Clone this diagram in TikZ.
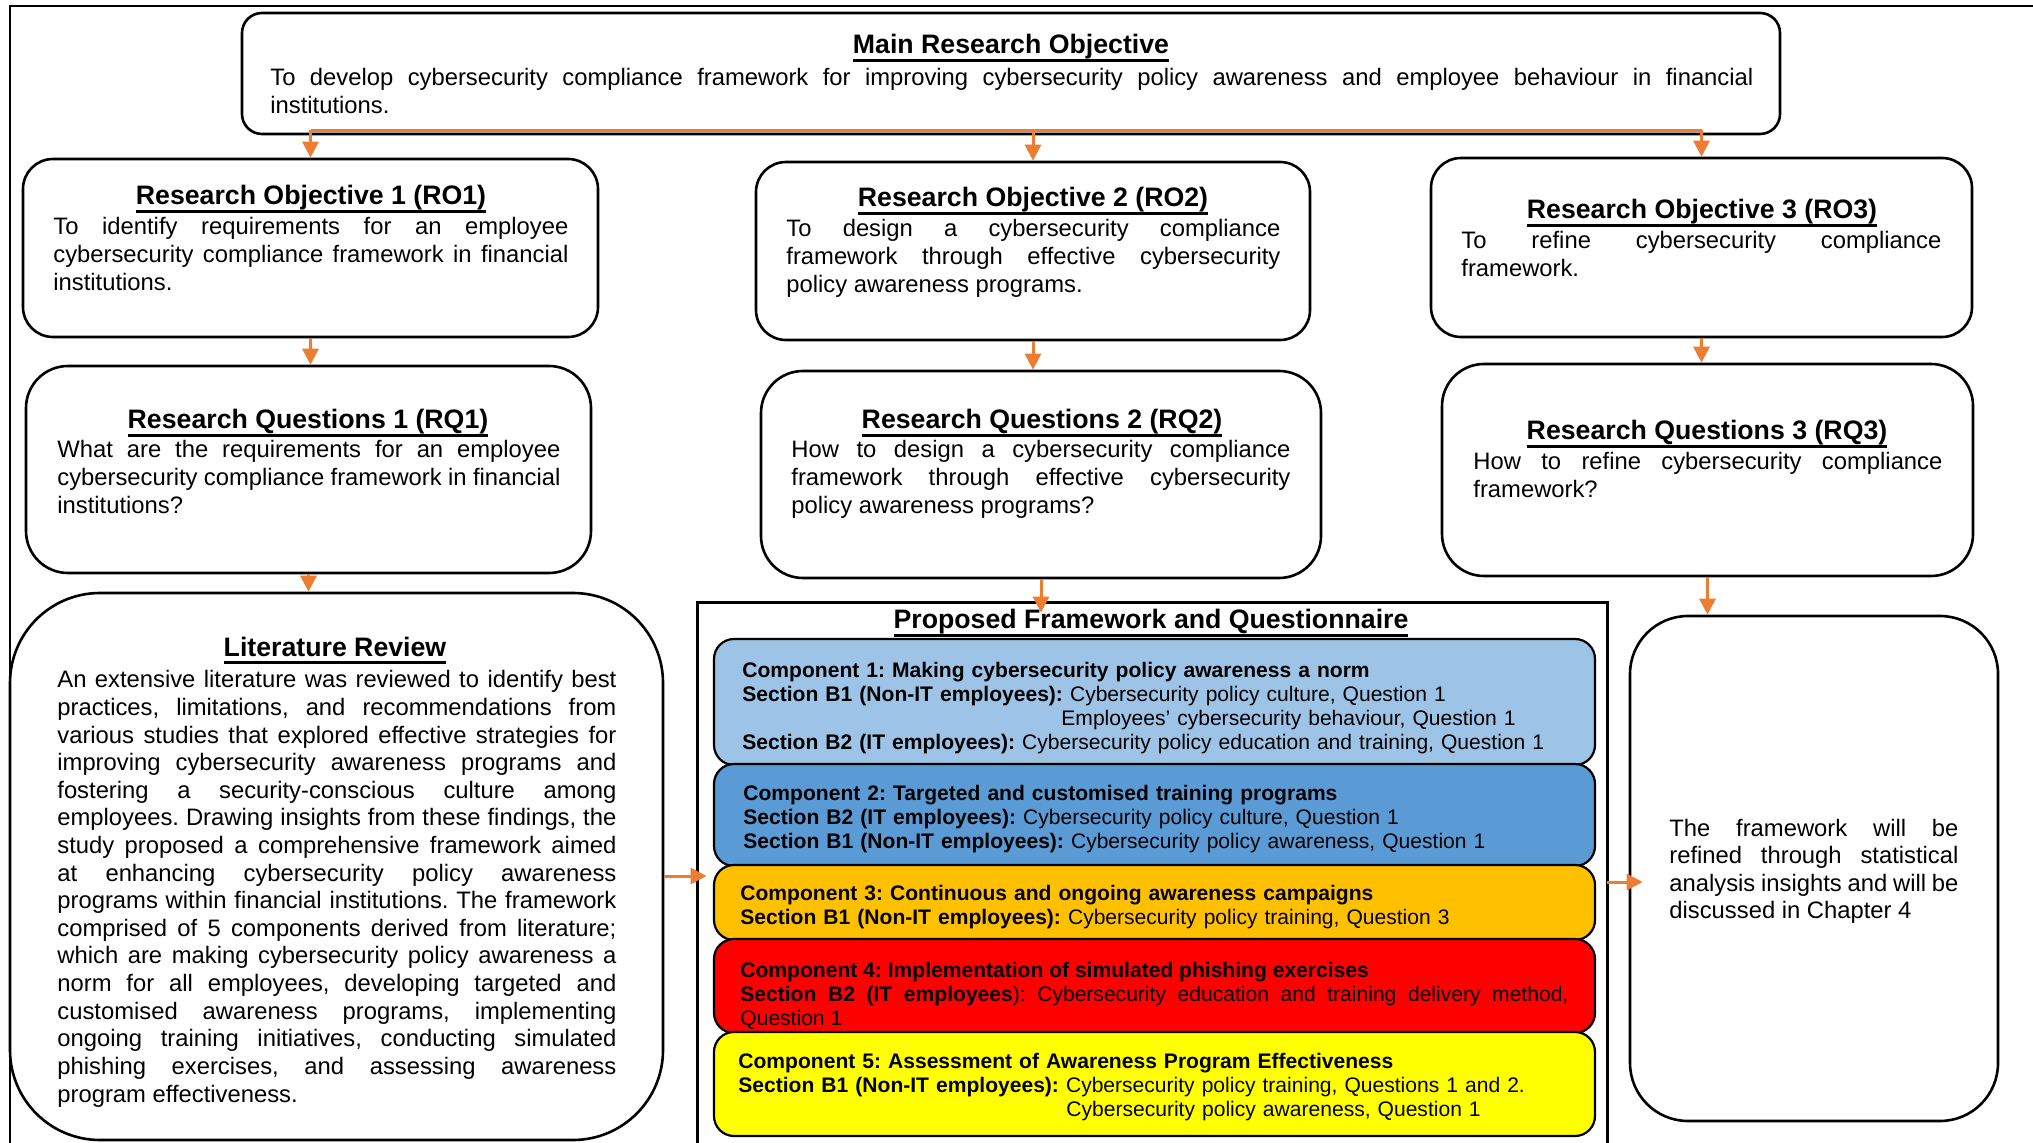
\documentclass[tikz,border=0pt]{standalone}
\usepackage{fontspec}
\setmainfont{Liberation Sans}
\usetikzlibrary{arrows.meta,fit}

\definecolor{flowc}{HTML}{ED7D31}
\definecolor{compA}{HTML}{9DC3E6}
\definecolor{compB}{HTML}{5B9BD5}
\definecolor{compC}{HTML}{FFC000}
\definecolor{compD}{HTML}{FF0000}
\definecolor{compE}{HTML}{FFFF00}

\newcommand\bodyfont{\fontsize{11.9pt}{13.8pt}\selectfont}
\newcommand\titlefont{\fontsize{13.35pt}{15pt}\selectfont\bfseries}
\newcommand\compfont{\fontsize{10.53pt}{12.15pt}\selectfont}
% heading with a heavy underline
\newcommand\ulhead[1]{\setbox0\hbox{#1}\rlap{\rule[-3.8pt]{\wd0}{1.35pt}}\box0}

\frenchspacing
\hyphenpenalty=10000
\exhyphenpenalty=10000
\tolerance=10000

\tikzset{
  box/.style={draw=black, line width=1.3pt, fill=white, inner sep=0pt},
  comp/.style={draw=black, line width=1.1pt, inner sep=0pt, rounded corners=10pt},
  ttl/.style={font=\titlefont, inner sep=0pt, anchor=base},
  body/.style={font=\bodyfont, inner sep=0pt, anchor=base west, align=justify},
  ctext/.style={font=\compfont, inner sep=0pt, anchor=base west, align=left, text width=430pt},
  frameline/.style={draw=black, line width=1.2pt},
  flow/.style={draw=flowc, line width=1.5pt},
  arr/.style={flow, -{Triangle[length=8pt,width=8pt]}},
}

\begin{document}
\begin{tikzpicture}[x=0.5pt, y=-0.5pt]
\useasboundingbox (0,0) rectangle (2033,1143);

% page frame
\draw[frameline] (10,1143) -- (10,6) -- (2033,6);

% boxes
\node (main) [box, rounded corners=10pt, fit={(242,13) (1780,134)}] {};
\node (ro1) [box, rounded corners=15pt, fit={(23,159) (598,337)}] {};
\node (ro2) [box, rounded corners=15pt, fit={(756,162) (1310,340)}] {};
\node (ro3) [box, rounded corners=15pt, fit={(1431,158) (1972,337)}] {};
\node (rq1) [box, rounded corners=21pt, fit={(26,366) (591,573)}] {};
\node (rq2) [box, rounded corners=21pt, fit={(761,371) (1321,578)}] {};
\node (rq3) [box, rounded corners=21pt, fit={(1442,364) (1973,576)}] {};
\node (lit) [box, rounded corners=45pt, fit={(10,593) (663,1140)}] {};
\node (chk) [box, rounded corners=29pt, fit={(1630,616) (1998,1121)}] {};

% framework panel, open at the bottom
\node (fw) [inner sep=0pt, fit={(698,603) (1607,1143)}] {};
\draw[frameline] (fw.south west) -- (fw.north west) -- (fw.north east) -- (fw.south east);

% framework components
\node (c1) [comp, fill=compA, fit={(714,639) (1595,765)}] {};
\node (c2) [comp, fill=compB, fit={(714,764) (1595,866)}] {};
\node (c3) [comp, fill=compC, fit={(714,865) (1595,940)}] {};
\node (c4) [comp, fill=compD, fit={(714,939) (1595,1033)}] {};
\node (c5) [comp, fill=compE, fit={(714,1032) (1595,1136)}] {};

% titles
\node (maint) [ttl] at (1011,54) {\ulhead{Main Research Objective}};
\node (ro1t) [ttl] at (311,205) {\ulhead{Research Objective 1 (RO1)}};
\node (ro2t) [ttl] at (1033,207) {\ulhead{Research Objective 2 (RO2)}};
\node (ro3t) [ttl] at (1702,219) {\ulhead{Research Objective 3 (RO3)}};
\node (rq1t) [ttl] at (308,429) {\ulhead{Research Questions 1 (RQ1)}};
\node (rq2t) [ttl] at (1042,429) {\ulhead{Research Questions 2 (RQ2)}};
\node (rq3t) [ttl] at (1707,440) {\ulhead{Research Questions 3 (RQ3)}};
\node (litt) [ttl] at (335,656) {\ulhead{Literature Review}};
\node (fwt) [ttl] at (1151,629) {\ulhead{Proposed Framework and Questionnaire}};

% body texts
\node (mainb) [body, text width=741.5pt] at (270,86) {To develop cybersecurity compliance framework for improving cybersecurity policy awareness and employee behaviour in financial\linebreak institutions.};
\node (ro1b) [body, text width=257.5pt] at (53,235) {To identify requirements for an employee\linebreak cybersecurity compliance framework in financial\linebreak institutions.};
\node (ro2b) [body, text width=247pt] at (786,237) {To design a cybersecurity compliance\linebreak framework through effective cybersecurity\linebreak policy awareness programs.};
\node (ro3b) [body, text width=240pt] at (1461,249) {To refine cybersecurity compliance\linebreak framework.};
\node (rq1b) [body, text width=251.5pt] at (57,458) {What are the requirements for an employee\linebreak cybersecurity compliance framework in financial\linebreak institutions?};
\node (rq2b) [body, text width=249.5pt] at (791,458) {How to design a cybersecurity compliance\linebreak framework through effective cybersecurity\linebreak policy awareness programs?};
\node (rq3b) [body, text width=234.5pt] at (1473,470) {How to refine cybersecurity compliance\linebreak framework?};
\node (litb) [body, text width=279.5pt] at (57,688) {An extensive literature was reviewed to identify best\linebreak
practices, limitations, and recommendations from\linebreak
various studies that explored effective strategies for\linebreak
improving cybersecurity awareness programs and\linebreak
fostering a security-conscious culture among\linebreak
employees. Drawing insights from these findings, the\linebreak
study proposed a comprehensive framework aimed\linebreak
at enhancing cybersecurity policy awareness\linebreak
programs within financial institutions. The framework\linebreak
comprised of 5 components derived from literature;\linebreak
which are making cybersecurity policy awareness a\linebreak
norm for all employees, developing targeted and\linebreak
customised awareness programs, implementing\linebreak
ongoing training initiatives, conducting simulated\linebreak
phishing exercises, and assessing awareness\linebreak
program effectiveness.};
\node (chkb) [body, text width=144.5pt] at (1669,836) {The framework will be\linebreak refined through statistical\linebreak analysis insights and will be\linebreak discussed in Chapter 4};

% component texts
\node (c1b) [ctext] at (742,677) {\textbf{Component 1: Making cybersecurity policy awareness a norm}\\
\textbf{Section B1 (Non-IT employees):} Cybersecurity policy culture, Question 1\\
\hspace*{159.5pt}Employees’ cybersecurity behaviour, Question 1\\
\textbf{Section B2 (IT employees):} Cybersecurity policy education and training, Question 1};
\node (c2b) [ctext] at (743,800) {\textbf{Component 2: Targeted and customised training programs}\\
\textbf{Section B2 (IT employees):} Cybersecurity policy culture, Question 1\\
\textbf{Section B1 (Non-IT employees):} Cybersecurity policy awareness, Question 1};
\node (c3b) [ctext] at (740,900) {\textbf{Component 3: Continuous and ongoing awareness campaigns}\\
\textbf{Section B1 (Non-IT employees):} Cybersecurity policy training, Question 3};
\node (c4b) [ctext, align=justify, text width=414pt] at (740,977) {\textbf{Component 4: Implementation of simulated phishing exercises}\\
\textbf{Section B2 (IT employees}): Cybersecurity education and training delivery method,\linebreak Question 1};
\node (c5b) [ctext] at (738,1068) {\textbf{Component 5: Assessment of Awareness Program Effectiveness}\\
\textbf{Section B1 (Non-IT employees):} Cybersecurity policy training, Questions 1 and 2.\\
\hspace*{164pt}Cybersecurity policy awareness, Question 1};

% connectors
\coordinate (bus) at ([yshift=2.5pt]main.south);
\draw[flow] (bus -| ro1.north) -- (bus -| ro3.north);
\draw[arr] (bus -| ro1.north) -- (ro1.north);
\draw[arr] (bus -| ro2.north) -- (ro2.north);
\draw[arr] (bus -| ro3.north) -- (ro3.north);
\draw[arr] (ro1.south) -- (ro1.south |- rq1.north);
\draw[arr] (ro2.south) -- (ro2.south |- rq2.north);
\draw[arr] (ro3.south) -- (ro3.south |- rq3.north);
\draw[arr] (rq1.south) -- (rq1.south |- lit.north);
\coordinate (fwin) at ([yshift=-5pt]fw.north);
\draw[arr] (rq2.south) -- (rq2.south |- fwin);
\draw[arr] (rq3.south) -- (rq3.south |- chk.north);
\coordinate (litout) at (0,876);
\draw[arr, shorten >=-4.5pt] (lit.east |- litout) -- (fw.west |- litout);
\coordinate (fwout) at (0,882);
\draw[arr, shorten >=-7pt] (fw.east |- fwout) -- (chk.west |- fwout);
\end{tikzpicture}
\end{document}
